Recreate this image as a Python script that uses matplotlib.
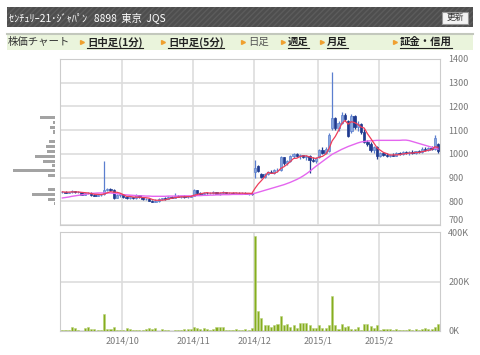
import matplotlib
matplotlib.use('Agg')
import matplotlib.pyplot as plt
import numpy as np
import pandas as pd
from matplotlib.patches import Rectangle

plt.rcParams['font.family'] = ['Noto Sans CJK JP', 'DejaVu Sans']

title = 'ｾﾝﾁｭﾘｰ21･ｼﾞｬﾊﾟﾝ   8898  東京  JQS'
nav_items = ['日中足(1分)', '日中足(5分)', '日足', '週足', '月足', '証金・信用']
nav_links = [True, True, False, True, True, True]
nav_x = [82, 163, 243, 283, 322, 395]

month_labels = ['2014/10', '2014/11', '2014/12', '2015/1', '2015/2']
month_first = [19, 41, 60, 80, 99]

# daily prices, Sep 2014 .. Feb 2015 (one row per month)
opens = [
    838, 840, 837, 839, 843, 838, 840, 828, 833, 837, 826, 824, 826, 830, 848, 852, 849, 815, 826,
    830, 818, 814, 816, 812, 826, 818, 808, 811, 803, 799, 801, 808, 812, 810, 818, 815, 822, 818, 821, 817, 820,
    824, 846, 836, 832, 835, 833, 836, 838, 832, 835, 839, 833, 836, 832, 837, 833, 835, 831, 834,
    925, 948, 915, 903, 914, 924, 920, 930, 930, 985, 960, 970, 990, 998, 990, 994, 986, 992, 975, 970,
    985, 1015, 1005, 1012, 1110, 1150, 1110, 1130, 1165, 1140, 1095, 1160, 1112, 1125, 1092, 1052, 1042, 1015, 1030,
    990, 1002, 995, 991, 997, 993, 1003, 998, 1008, 1002, 1006, 1003, 1010, 1006, 1022, 1015, 1025, 1022, 1040,
]
highs = [
    842, 843, 841, 846, 845, 842, 841, 835, 840, 838, 829, 828, 830, 969, 858, 856, 851, 830, 834,
    832, 822, 820, 820, 830, 828, 820, 815, 813, 806, 808, 812, 815, 818, 821, 822, 836, 826, 824, 825, 823, 826,
    850, 848, 840, 838, 840, 838, 842, 840, 838, 842, 841, 838, 840, 839, 840, 838, 838, 836, 837,
    975, 952, 918, 918, 928, 932, 935, 940, 992, 988, 975, 995, 1003, 1002, 998, 997, 995, 995, 985, 988,
    1020, 1028, 1030, 1088, 1345, 1155, 1140, 1175, 1172, 1142, 1168, 1162, 1140, 1130, 1105, 1060, 1050, 1035, 1035,
    1008, 1006, 1002, 1000, 1003, 1008, 1008, 1012, 1012, 1010, 1015, 1012, 1018, 1030, 1028, 1030, 1035, 1078, 1045,
]
lows = [
    833, 836, 833, 835, 836, 834, 826, 825, 830, 824, 822, 821, 823, 828, 842, 845, 808, 812, 820,
    815, 811, 810, 810, 810, 815, 806, 804, 800, 796, 795, 798, 804, 806, 808, 812, 813, 816, 814, 815, 813, 816,
    822, 832, 828, 828, 830, 829, 832, 830, 828, 832, 831, 829, 830, 829, 830, 829, 829, 828, 828,
    898, 925, 900, 898, 910, 918, 916, 925, 927, 955, 952, 965, 984, 985, 978, 982, 976, 918, 965, 962,
    982, 1000, 1000, 1008, 1100, 1100, 1095, 1125, 1140, 1070, 1090, 1105, 1098, 1085, 1045, 1035, 1008, 1005, 980,
    985, 990, 986, 985, 989, 990, 994, 995, 998, 996, 1000, 998, 1002, 1003, 1010, 1010, 1015, 1018, 1002,
]
closes = [
    840, 837, 839, 843, 838, 840, 828, 833, 837, 826, 824, 826, 828, 848, 852, 849, 815, 826, 830,
    818, 814, 816, 812, 826, 818, 808, 811, 803, 799, 801, 808, 812, 810, 818, 815, 822, 818, 821, 817, 820, 823,
    846, 836, 832, 835, 833, 836, 838, 832, 835, 839, 833, 836, 832, 837, 833, 835, 831, 834, 832,
    940, 928, 903, 914, 924, 920, 930, 933, 985, 960, 970, 990, 998, 990, 994, 986, 990, 975, 970, 982,
    1015, 1005, 1022, 1080, 1150, 1110, 1130, 1165, 1148, 1075, 1160, 1112, 1128, 1092, 1052, 1042, 1015, 1028, 990,
    1002, 995, 991, 997, 993, 1003, 998, 1008, 1002, 1006, 1003, 1010, 1006, 1022, 1015, 1025, 1020, 1068, 1010,
]
# long moving average (includes days before the window)
ma_long = [
    814, 816, 818, 821, 823, 825, 827, 829, 831, 833, 834, 835, 835, 835, 835, 835, 834, 832, 830,
    828, 827, 826, 825, 824, 823, 823, 822, 822, 821, 821, 821, 821, 821, 822, 822, 822, 822, 823, 823, 823, 823,
    823, 824, 824, 825, 825, 826, 826, 827, 827, 828, 828, 828, 829, 829, 829, 829, 830, 830, 830,
    834, 838, 842, 846, 850, 854, 858, 862, 866, 870, 875, 880, 886, 892, 899, 907, 916, 926, 937, 948,
    958, 968, 978, 988, 998, 1005, 1012, 1019, 1025, 1031, 1036, 1041, 1046, 1050, 1052, 1054, 1055, 1056, 1057,
    1057, 1057, 1057, 1057, 1057, 1057, 1057, 1058, 1058, 1056, 1052, 1048, 1044, 1040, 1036, 1032, 1028, 1024, 1020,
]
# volume in thousands of shares
volume = [
    3, 4, 4, 18, 14, 5, 2, 11, 16, 7, 7, 4, 3, 70, 7, 7, 16, 6, 3,
    5, 12, 7, 6, 5, 4, 3, 8, 13, 10, 13, 2, 9, 5, 4, 1, 3, 5, 6, 7, 10, 8,
    17, 12, 7, 12, 10, 5, 9, 17, 15, 16, 6, 5, 6, 8, 6, 4, 10, 5, 13,
    383, 80, 54, 26, 26, 18, 23, 30, 59, 26, 30, 16, 26, 13, 32, 32, 32, 23, 13, 13,
    23, 13, 13, 23, 140, 26, 9, 30, 16, 21, 9, 7, 16, 5, 27, 30, 20, 13, 23,
    5, 9, 7, 9, 5, 9, 5, 5, 5, 9, 5, 7, 4, 7, 12, 9, 7, 15, 30,
]
# volume by price (relative)
vap_price = [1153, 1132, 1112, 1092, 1051, 1031, 1011, 990, 969, 950, 929, 908, 848, 828, 807, 790]
vap_size = [15, 2, 5, 2, 6, 9, 8, 20, 12, 3, 42, 7, 7, 23, 7, 1]

W, H = 480, 355
fig = plt.figure(figsize=(W / 100, H / 100), dpi=100)


def px_axes(x0, y0, x1, y1, **kw):
    return fig.add_axes([x0 / W, 1 - y1 / H, (x1 - x0) / W, (y1 - y0) / H], **kw)


# background layer for header / nav bar
bg = px_axes(0, 0, W, H)
bg.set_xlim(0, W)
bg.set_ylim(H, 0)
bg.axis('off')
bg.add_patch(Rectangle((7, 7), 466, 20, facecolor='#4e4e4e', edgecolor='#5c5c5c',
                       hatch='//////', linewidth=0))
bg.text(9, 17.5, title, color='white', fontsize=7.4, va='center', ha='left')
bg.add_patch(Rectangle((442, 11.5), 26, 12, facecolor='#f4f4f4', edgecolor='#999999', linewidth=0.8))
bg.text(455, 17.8, '更新', color='#333333', fontsize=6.3, ha='center', va='center')
bg.add_patch(Rectangle((7, 33), 466, 17, facecolor='#eaf4dc', edgecolor='none'))
bg.plot([7, 473], [33.5, 33.5], color='#c3c8bd', lw=1.5)
bg.text(8, 42, '株価チャート', fontsize=7.5, color='#333333', va='center', ha='left')

nav_texts = []
for x, label, link in zip(nav_x, nav_items, nav_links):
    bg.plot(x, 42, marker='>', color='#f0a030', markersize=2.8)
    t = bg.text(x + 5, 42, label, fontsize=7.5, va='center', ha='left',
                color='#222222' if link else '#555555',
                fontweight='bold' if link else 'normal')
    nav_texts.append((t, link))

# price panel
ax = px_axes(60, 59, 440, 225)
n = len(closes)
idx = np.arange(n)
o = np.array(opens)
c = np.array(closes)
up = c >= o
ma_short = pd.Series(closes).rolling(5, min_periods=1).mean()

body_lo = np.minimum(o, c)
body_h = np.maximum(np.abs(c - o), 2)
ax.vlines(idx[up], np.array(lows)[up], np.array(highs)[up], color='#5b7fcf', lw=0.9, zorder=3)
ax.vlines(idx[~up], np.array(lows)[~up], np.array(highs)[~up], color='#1f3a8f', lw=0.9, zorder=3)
ax.bar(idx[up], body_h[up], bottom=body_lo[up], width=0.72, color='#8aa6dc',
       edgecolor='#5b7fcf', linewidth=0.5, zorder=4)
ax.bar(idx[~up], body_h[~up], bottom=body_lo[~up], width=0.72, color='#1f3a8f',
       edgecolor='#1f3a8f', linewidth=0.5, zorder=4)
ax.plot(idx, ma_long, color='#e466ef', lw=1.0, zorder=5)
ax.plot(idx, ma_short, color='#ee3d5a', lw=0.9, zorder=6)

xlim = (-0.72, 117.6)
ax.set_xlim(*xlim)
ax.set_ylim(700, 1400)
ax.set_yticks(np.arange(700, 1401, 100))
ax.yaxis.tick_right()
ax.tick_params(axis='y', length=0, pad=6, labelsize=6.5, labelcolor='#777777')
# the bottom label sits just above the volume panel's top label
ax.get_yticklabels()[0].set_va('bottom')
ax.set_xticks(np.array(month_first) - 0.3)
ax.tick_params(axis='x', length=0, labelbottom=False)
ax.grid(True, color='#dddddd', lw=1.2)
ax.set_axisbelow(True)
for s in ax.spines.values():
    s.set_color('#cccccc')

# volume by price, left of the price panel
axh = px_axes(12, 59, 55, 225)
axh.barh(vap_price, vap_size, height=13, color='#a3a3a3')
axh.set_xlim(43, 0)
axh.set_ylim(700, 1400)
axh.axis('off')

# volume panel
av = px_axes(60, 232, 440, 331)
av.bar(idx, volume, width=0.65, color='#86ad1f', edgecolor='#b9d27a', linewidth=0.4, zorder=3)
av.set_xlim(*xlim)
av.set_ylim(0, 400)
av.set_yticks([0, 200, 400])
av.set_yticklabels(['0K', '200K', '400K'])
av.yaxis.tick_right()
av.tick_params(axis='y', length=0, pad=6, labelsize=6.5, labelcolor='#777777')
av.set_xticks(np.array(month_first) - 0.3)
av.set_xticklabels(month_labels)
av.tick_params(axis='x', length=0, pad=4, labelsize=6.5, labelcolor='#777777')
av.grid(True, color='#dddddd', lw=1.2)
av.set_axisbelow(True)
for s in av.spines.values():
    s.set_color('#cccccc')

# underline the link items
fig.canvas.draw()
inv = bg.transData.inverted()
for t, link in nav_texts:
    if not link:
        continue
    bb = t.get_window_extent()
    (x0, y0), (x1, y1) = inv.transform([[bb.x0, bb.y0], [bb.x1, bb.y1]])
    bg.plot([x0, x1], [47.5, 47.5], color='#222222', lw=0.8)

fig.savefig('out.png', dpi=100)
